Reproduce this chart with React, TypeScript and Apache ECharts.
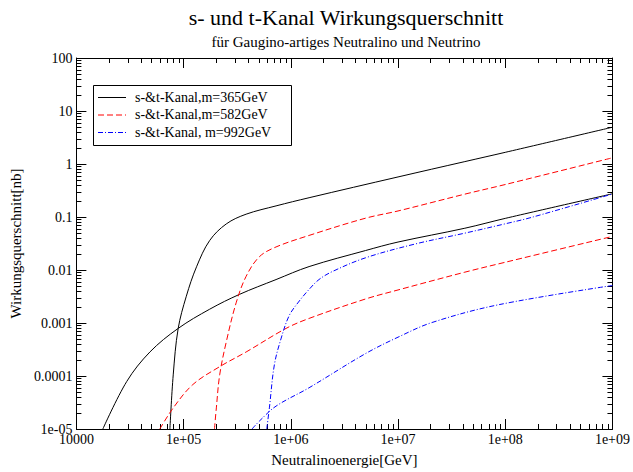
import React, { useEffect, useRef } from "react";
import * as echarts from "echarts";

// Black, m=365 GeV (steep branch)
const blackSteepX = [74500, 80000, 88900, 106000, 132000, 175000, 250000, 383000, 728000, 1.48e6, 1e7, 4.2e7, 1e8, 1e9];
const blackSteepY = [1e-5, 1.05e-4, 7.8e-4, 3.2e-3, 0.0115, 0.036, 0.074, 0.113, 0.162, 0.231, 0.57, 1.11, 1.66, 4.94];
// Black, m=365 GeV (lower branch)
const blackLowX = [17650, 29500, 48500, 88900, 175000, 332000, 728000, 1.48e6, 4.98e6, 1e7, 4.2e7, 1e8, 1e9];
const blackLowY = [1e-5, 7.9e-5, 2.84e-4, 7.9e-4, 1.82e-3, 3.47e-3, 6.6e-3, 0.0116, 0.0233, 0.0337, 0.0614, 0.0942, 0.274];
// Red, m=582 GeV (steep branch)
const redSteepX = [194000, 202000, 217000, 250000, 309000, 383000, 509000, 728000, 1.48e6, 4.98e6, 1e7, 4.2e7, 1e8, 1e9];
const redSteepY = [1e-5, 2.5e-5, 1.05e-4, 4.4e-4, 2.4e-3, 7.6e-3, 0.0178, 0.0272, 0.0449, 0.095, 0.13, 0.27, 0.41, 1.31];
// Red, m=582 GeV (lower branch)
const redLowX = [60000, 80000, 122000, 217000, 383000, 902000, 1.48e6, 4.98e6, 1e7, 4.2e7, 1e8, 1e9];
const redLowY = [1e-5, 2.5e-5, 6.9e-5, 1.5e-4, 2.84e-4, 7.9e-4, 1.22e-3, 2.84e-3, 4.2e-3, 9.1e-3, 0.014, 0.043];
// Blue, m=992 GeV (steep branch)
const blueSteepX = [596000, 631000, 702000, 809000, 966000, 1.2e6, 1.48e6, 1.83e6, 2.44e6, 4.98e6, 1.45e7, 4.2e7, 1e8, 1.75e8, 1e9];
const blueSteepY = [1e-5, 2.5e-5, 1.62e-4, 5e-4, 1.38e-3, 2.6e-3, 4.3e-3, 6.6e-3, 9.35e-3, 0.017, 0.031, 0.0496, 0.0744, 0.098, 0.272];
// Blue, m=992 GeV (lower branch)
const blueLowX = [435000, 509000, 728000, 1.48e6, 4.98e6, 1e7, 2.07e7, 8.57e7, 1e9];
const blueLowY = [1e-5, 1.41e-5, 2.7e-5, 6e-5, 2.65e-4, 5.4e-4, 1.02e-3, 2.2e-3, 5.1e-3];

const legendNames = ["s-&t-Kanal,m=365GeV", "s-&t-Kanal,m=582GeV", "s-&t-Kanal, m=992GeV"];
const legendColors = ["#000000", "#ff0000", "#0000ff"];
const legendDash: (number[] | null)[] = [null, [6, 3], [5, 2, 1, 2]];

const xMin = 1e4;
const xMax = 1e9;
const yMin = 1e-5;
const yMax = 100;
const xDecades = [4, 5, 6, 7, 8];
const yDecades = [-5, -4, -3, -2, -1, 0, 1];
const minorMultipliers = [2, 3, 4, 5, 6, 7, 8, 9];

const yLabels: Record<string, string> = {
  "2": "100", "1": "10", "0": "1", "-1": "0.1", "-2": "0.01", "-3": "0.001", "-4": "0.0001", "-5": "1e-05",
};

const FONT = "'Liberation Serif', 'Times New Roman', serif";

function pairs(xs: number[], ys: number[]) {
  return xs.map((x, i) => [x, ys[i]]);
}

export default function App() {
  const ref = useRef<HTMLDivElement>(null);
  useEffect(() => {
    if (!ref.current) return;
    const chart = echarts.init(ref.current, undefined, { renderer: "svg" });

    const xMinor: number[][] = [];
    xDecades.forEach((d) => minorMultipliers.forEach((m) => xMinor.push([m * Math.pow(10, d), yMin])));
    const yMinor: number[][] = [];
    yDecades.forEach((d) => minorMultipliers.forEach((m) => yMinor.push([xMin, m * Math.pow(10, d)])));

    const tickLen = 5;
    const lineBase = { type: "line", showSymbol: false, symbol: "none", smooth: 0.35, clip: true };

    const axisCommon = {
      type: "log",
      logBase: 10,
      axisLine: { show: true, lineStyle: { color: "#000", width: 1 } },
      axisTick: { show: true, inside: true, length: 10, lineStyle: { color: "#000", width: 1 } },
      splitLine: { show: false },
    };

    // legend drawn as graphic (box, sample lines, texts)
    const legX = 93;
    const legY = 85;
    const rowY = [97, 114.5, 132];
    const legendChildren: any[] = [
      {
        type: "rect",
        shape: { x: legX + 0.5, y: legY + 0.5, width: 198, height: 60 },
        style: { fill: "#fff", stroke: "#000", lineWidth: 1 },
      },
    ];
    legendNames.forEach((name, i) => {
      legendChildren.push({
        type: "line",
        shape: { x1: 98, y1: rowY[i] + 0.5, x2: 126, y2: rowY[i] + 0.5 },
        style: { stroke: legendColors[i], lineWidth: 1, lineDash: legendDash[i] || undefined },
      });
      legendChildren.push({
        type: "text",
        x: 135,
        y: rowY[i],
        style: {
          text: name,
          fill: "#000",
          font: "14px " + FONT,
          textVerticalAlign: "middle",
          verticalAlign: "middle",
        },
      });
    });

    chart.setOption({
      animation: false,
      backgroundColor: "#fff",
      title: [
        {
          text: "s- und t-Kanal Wirkungsquerschnitt",
          left: 346,
          top: 6,
          padding: 0,
          textAlign: "center",
          textStyle: { fontFamily: FONT, fontSize: 22, fontWeight: "normal", color: "#000" },
        },
        {
          text: "für Gaugino-artiges Neutralino und Neutrino",
          left: 346,
          top: 34,
          padding: 0,
          textAlign: "center",
          textStyle: { fontFamily: FONT, fontSize: 15, fontWeight: "normal", color: "#000" },
        },
      ],
      graphic: [{ type: "group", z: 100, children: legendChildren }],
      grid: { left: 76, right: 18, top: 58, bottom: 37, containLabel: false },
      xAxis: [
        {
          ...axisCommon,
          min: xMin,
          max: xMax,
          splitNumber: 5,
          name: "Neutralinoenergie[GeV]",
          nameLocation: "middle",
          nameGap: 23,
          nameTextStyle: { fontFamily: FONT, fontSize: 15, color: "#000" },
          axisLabel: {
            fontFamily: FONT,
            fontSize: 14,
            color: "#000",
            margin: 5,
            lineHeight: 10,
            formatter: (v: number) => {
              const e = Math.round(Math.log10(v));
              return e === 4 ? "10000" : "1e+0" + e;
            },
          },
        },
        {
          ...axisCommon,
          position: "top",
          min: xMin,
          max: xMax,
          splitNumber: 5,
          axisLabel: { show: false },
        },
      ],
      yAxis: [
        {
          ...axisCommon,
          min: yMin,
          max: yMax,
          splitNumber: 7,
          name: "Wirkungsquerschnitt[nb]",
          nameLocation: "middle",
          nameGap: 52,
          nameTextStyle: { fontFamily: FONT, fontSize: 15, color: "#000" },
          axisLabel: {
            fontFamily: FONT,
            fontSize: 14,
            color: "#000",
            margin: 4,
            lineHeight: 8,
            formatter: (v: number) => yLabels[String(Math.round(Math.log10(v)))] ?? "",
          },
        },
        {
          ...axisCommon,
          position: "right",
          min: yMin,
          max: yMax,
          splitNumber: 7,
          axisLabel: { show: false },
        },
      ],
      series: [
        {
          ...lineBase,
          name: legendNames[0],
          data: pairs(blackSteepX, blackSteepY),
          lineStyle: { color: "#000", width: 1, type: "solid" },
        },
        {
          ...lineBase,
          name: legendNames[0],
          data: pairs(blackLowX, blackLowY),
          lineStyle: { color: "#000", width: 1, type: "solid" },
        },
        {
          ...lineBase,
          name: legendNames[1],
          data: pairs(redSteepX, redSteepY),
          lineStyle: { color: "#ff0000", width: 1, type: [6, 3] },
        },
        {
          ...lineBase,
          name: legendNames[1],
          data: pairs(redLowX, redLowY),
          lineStyle: { color: "#ff0000", width: 1, type: [6, 3] },
        },
        {
          ...lineBase,
          name: legendNames[2],
          data: pairs(blueSteepX, blueSteepY),
          lineStyle: { color: "#0000ff", width: 1, type: [5, 2, 1, 2] },
        },
        {
          ...lineBase,
          name: legendNames[2],
          data: pairs(blueLowX, blueLowY),
          lineStyle: { color: "#0000ff", width: 1, type: [5, 2, 1, 2] },
        },
        {
          type: "custom",
          name: "xMinorTicks",
          silent: true,
          clip: false,
          data: xMinor,
          renderItem: (params: any, api: any) => {
            const p = api.coord([api.value(0), yMin]);
            const cs = params.coordSys;
            const px = Math.round(p[0]) + 0.5;
            const top = cs.y;
            const bot = cs.y + cs.height;
            return {
              type: "group",
              children: [
                { type: "line", shape: { x1: px, y1: bot, x2: px, y2: bot - tickLen }, style: { stroke: "#000", lineWidth: 1 } },
                { type: "line", shape: { x1: px, y1: top, x2: px, y2: top + tickLen }, style: { stroke: "#000", lineWidth: 1 } },
              ],
            };
          },
        },
        {
          type: "custom",
          name: "yMinorTicks",
          silent: true,
          clip: false,
          data: yMinor,
          renderItem: (params: any, api: any) => {
            const p = api.coord([xMin, api.value(1)]);
            const cs = params.coordSys;
            const py = Math.round(p[1]) + 0.5;
            const left = cs.x;
            const right = cs.x + cs.width;
            return {
              type: "group",
              children: [
                { type: "line", shape: { x1: left, y1: py, x2: left + tickLen, y2: py }, style: { stroke: "#000", lineWidth: 1 } },
                { type: "line", shape: { x1: right, y1: py, x2: right - tickLen, y2: py }, style: { stroke: "#000", lineWidth: 1 } },
              ],
            };
          },
        },
      ],
    });

    return () => chart.dispose();
  }, []);

  return (
    <div
      ref={ref}
      style={{ position: "fixed", left: 0, top: 0, width: 633, height: 472, background: "#fff" }}
    />
  );
}
